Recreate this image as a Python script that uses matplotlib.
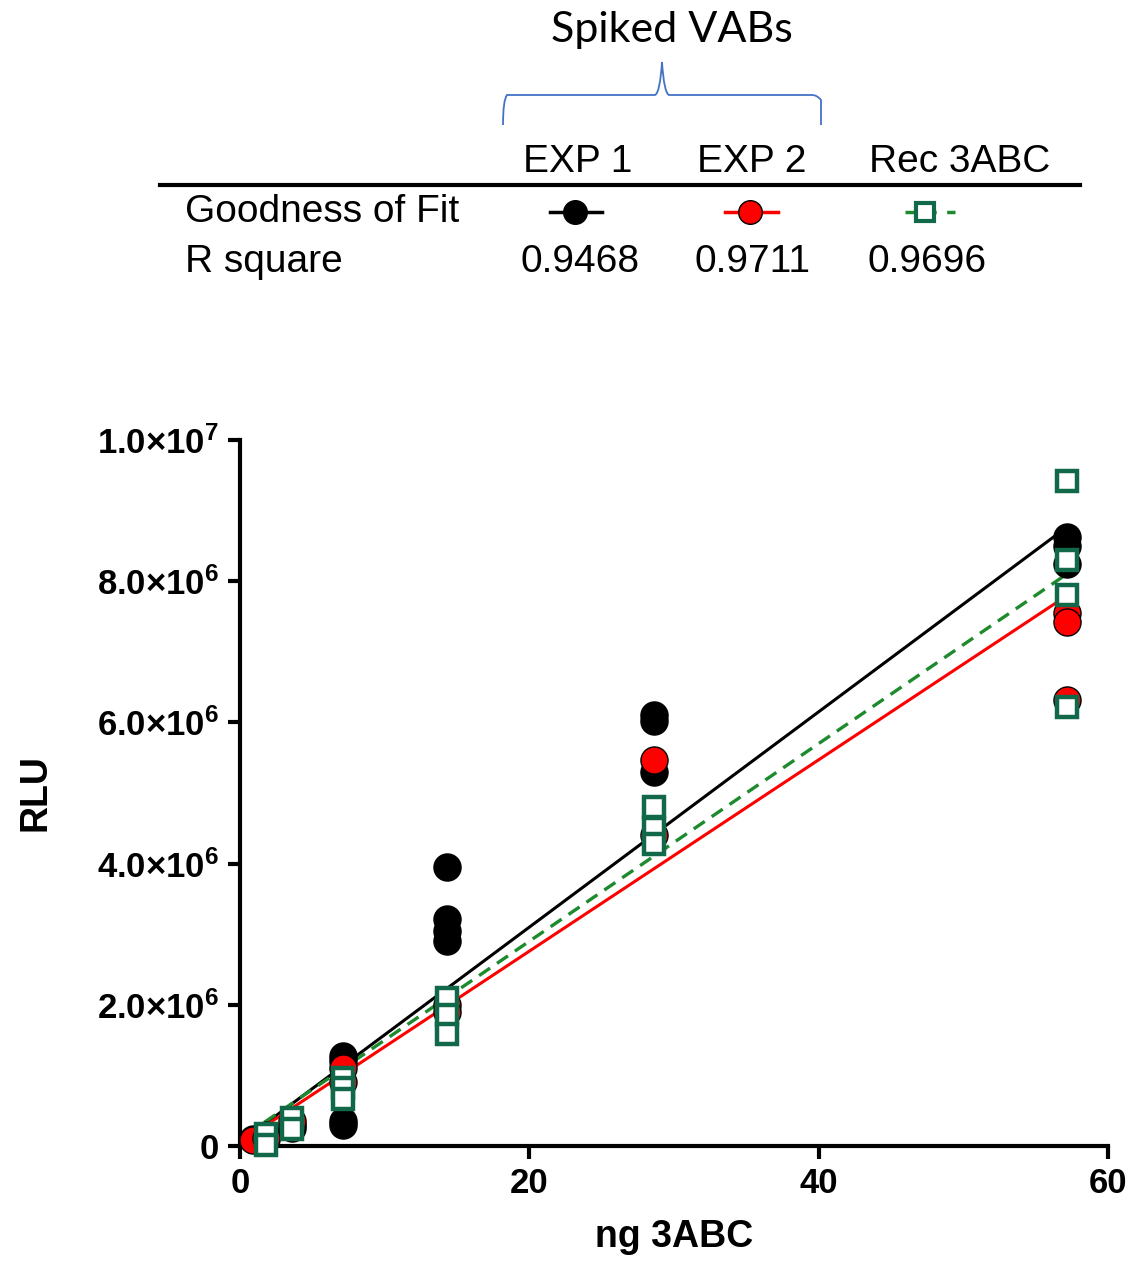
import numpy as np
import matplotlib.pyplot as plt
from matplotlib.path import Path
from matplotlib.patches import PathPatch
from matplotlib.lines import Line2D

plt.rcParams['font.family'] = ['Liberation Sans', 'DejaVu Sans']
plt.rcParams['mathtext.fontset'] = 'custom'
plt.rcParams['mathtext.rm'] = 'Liberation Sans'
plt.rcParams['mathtext.bf'] = 'Liberation Sans:bold'

# dados (RLU em unidades de 1e6)
exp1_x = [0.9, 1.8, 1.8, 3.6, 3.6, 7.15, 7.15, 7.15, 7.15,
          14.3, 14.3, 14.3, 14.3, 28.6, 28.6, 28.6, 57.2, 57.2, 57.2]
exp1_y = [0.1, 0.15, 0.1, 0.3, 0.25, 1.27, 1.2, 0.35, 0.3,
          3.95, 3.22, 3.05, 2.9, 6.1, 6.02, 5.3, 8.62, 8.5, 8.25]

exp2_x = [0.9, 1.8, 3.6, 7.15, 7.15, 14.3, 14.3, 28.6, 28.6, 57.2, 57.2, 57.2]
exp2_y = [0.08, 0.12, 0.35, 1.1, 0.9, 2.0, 1.9, 5.47, 4.4, 7.55, 7.42, 6.32]

rec_x = [1.8, 1.8, 3.6, 3.6, 7.15, 7.15, 7.15, 14.3, 14.3, 14.3,
         28.6, 28.6, 28.6, 57.2, 57.2, 57.2, 57.2]
rec_y = [0.17, 0.02, 0.4, 0.24, 0.96, 0.82, 0.67, 2.1, 1.85, 1.58,
         4.8, 4.5, 4.28, 9.42, 8.3, 7.8, 6.22]

# retas ajustadas (inclinação e intercepto, em 1e6)
fit_slope = [0.1525, 0.1355, 0.1400]
fit_intercept = [0.05, 0.05, 0.1]
fit_range = [0.45, 57.2]

series_names = ['EXP 1', 'EXP 2', 'Rec 3ABC']
r_square = ['0.9468', '0.9711', '0.9696']

y_ticks = [0, 2, 4, 6, 8, 10]
y_tick_labels = [r'$\mathbf{0}$', r'$\mathbf{2.0{\times}10^{6}}$',
                 r'$\mathbf{4.0{\times}10^{6}}$', r'$\mathbf{6.0{\times}10^{6}}$',
                 r'$\mathbf{8.0{\times}10^{6}}$', r'$\mathbf{1.0{\times}10^{7}}$']
x_ticks = [0, 20, 40, 60]

green = '#11694a'
W, H = 1137, 1262

fig = plt.figure(figsize=(W / 100, H / 100), dpi=100)


def px(x, y):
    return x / W, 1 - y / H


ax = fig.add_axes([240 / W, (H - 1146) / H, (1108 - 240) / W, (1146 - 440) / H])

# retas de ajuste
xf = np.array(fit_range)
ax.plot(xf, fit_slope[0] * xf + fit_intercept[0], color='black', lw=2.2, zorder=2)
ax.plot(xf, fit_slope[1] * xf + fit_intercept[1], color='red', lw=2.2, zorder=2)
ax.plot(xf, fit_slope[2] * xf + fit_intercept[2], color='#1e8a2e', lw=2.4,
        ls=(0, (4, 2.5)), zorder=2)

# pontos
ax.plot(exp1_x, exp1_y, 'o', color='black', ms=19.5, mec='black', mew=1,
        ls='none', zorder=3, clip_on=False)
ax.plot(exp2_x, exp2_y, 'o', color='red', ms=19.5, mec='black', mew=1,
        ls='none', zorder=4, clip_on=False)
ax.plot(rec_x, rec_y, 's', mfc='white', mec=green, ms=15, mew=3.2,
        ls='none', zorder=5, clip_on=False)

ax.set_xlim(0, 60)
ax.set_ylim(0, 10)
ax.set_xticks(x_ticks)
ax.set_yticks(y_ticks)
ax.set_yticklabels(y_tick_labels)
for s in ['top', 'right']:
    ax.spines[s].set_visible(False)
for s in ['left', 'bottom']:
    ax.spines[s].set_linewidth(3)
ax.tick_params(width=3, length=9, labelsize=25, pad=6)
for lab in ax.get_xticklabels():
    lab.set_fontweight('bold')
ax.set_xlabel('ng 3ABC', fontsize=27, fontweight='bold', labelpad=14)
ax.set_ylabel('RLU', fontsize=27, fontweight='bold')
ax.yaxis.set_label_coords(-0.215, 0.5)

# tabela do topo
fig.text(*px(672, 30), 'Spiked VABs', fontsize=31, family=['Lato', 'DejaVu Sans'],
         ha='center', va='center')

verts = [px(503, 125), px(503, 100), px(507, 95), px(512, 95),
         px(655, 95), px(660, 93), px(662, 62),
         px(664, 93), px(669, 95), px(812, 95),
         px(817, 95), px(821, 100), px(821, 125)]
codes = [Path.MOVETO, Path.CURVE3, Path.CURVE3, Path.LINETO,
         Path.LINETO, Path.CURVE3, Path.CURVE3,
         Path.CURVE3, Path.CURVE3, Path.LINETO,
         Path.CURVE3, Path.CURVE3, Path.LINETO]
fig.add_artist(PathPatch(Path(verts, codes), transform=fig.transFigure,
                         fill=False, color='#4472C4', lw=1.3))

head_x = [578, 752, 960]
for name, hx in zip(series_names, head_x):
    fig.text(*px(hx, 172), name, fontsize=28, ha='center', va='baseline')

fig.add_artist(Line2D([160 / W, 1080 / W], [1 - 185 / H, 1 - 185 / H],
                      color='black', lw=3, transform=fig.transFigure))

fig.text(*px(185, 222), 'Goodness of Fit', fontsize=28, ha='left', va='baseline')
fig.text(*px(185, 272), 'R square', fontsize=28, ha='left', va='baseline')

val_x = [580, 752, 927]
for v, vx in zip(r_square, val_x):
    fig.text(*px(vx, 272), v, fontsize=28, ha='center', va='baseline')

ly = 1 - 212 / H
fig.add_artist(Line2D([550 / W, 602 / W], [ly, ly], color='black', lw=2.5,
                      transform=fig.transFigure))
fig.add_artist(Line2D([575 / W], [ly], marker='o', ms=17, color='black',
                      transform=fig.transFigure))
fig.add_artist(Line2D([725 / W, 778 / W], [ly, ly], color='red', lw=2.5,
                      transform=fig.transFigure))
fig.add_artist(Line2D([750 / W], [ly], marker='o', ms=17, mfc='red', mec='black',
                      mew=1, transform=fig.transFigure))
fig.add_artist(Line2D([905 / W, 955 / W], [ly, ly], color='#1e8a2e', lw=2.5,
                      ls=(0, (3, 3)), transform=fig.transFigure))
fig.add_artist(Line2D([925 / W], [ly], marker='s', ms=13, mfc='white', mec=green,
                      mew=3, transform=fig.transFigure))

plt.savefig('out.png', dpi=100)
